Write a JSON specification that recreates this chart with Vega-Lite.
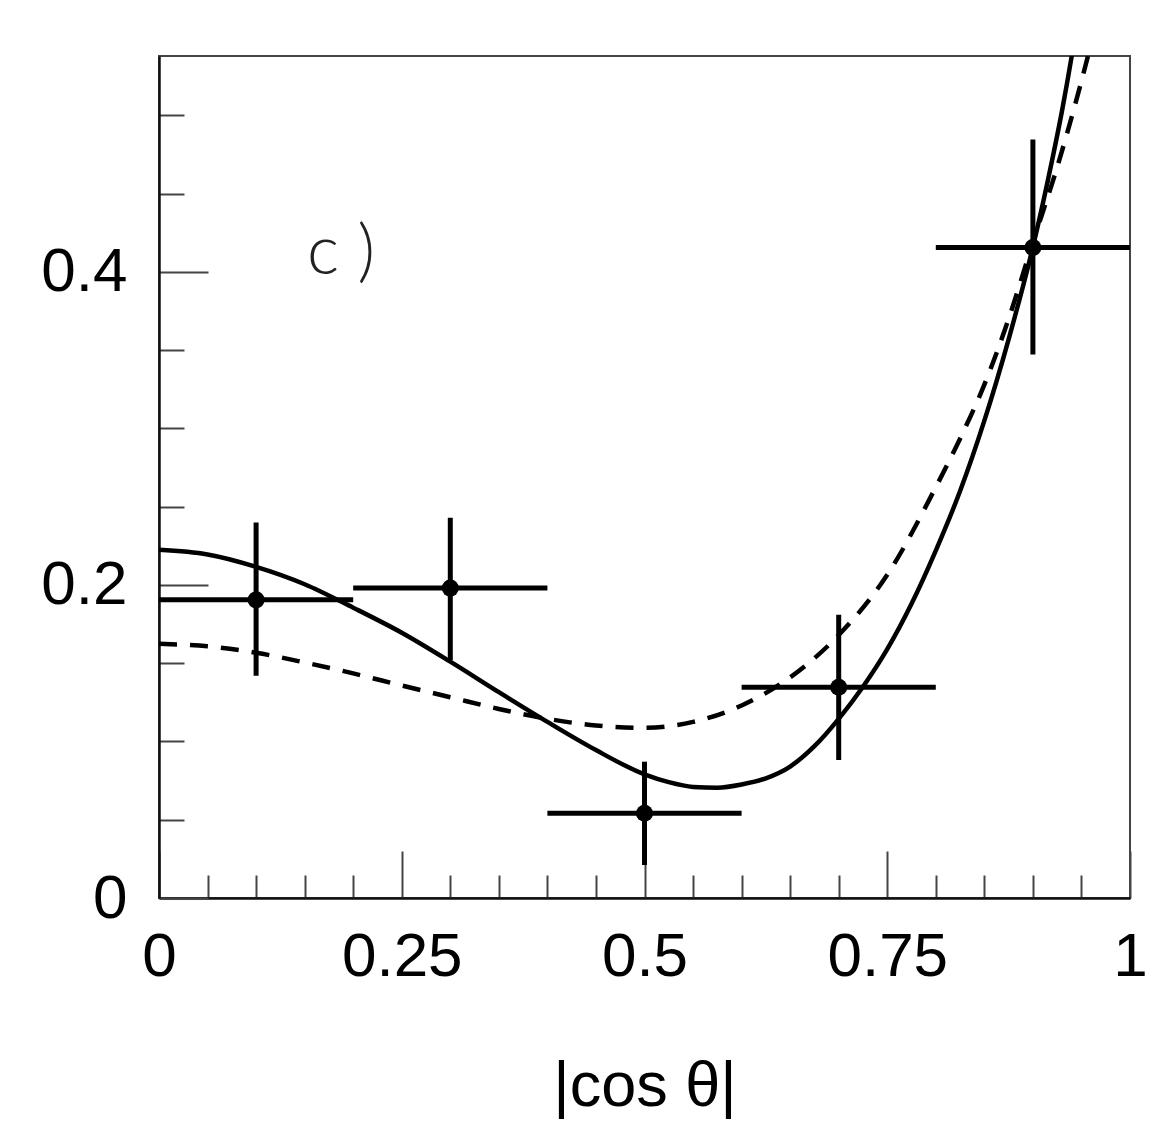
{
  "$schema": "https://vega.github.io/schema/vega-lite/v6.json",
  "autosize": "none",
  "width": 971,
  "height": 842,
  "padding": {"left": 159, "top": 56, "right": 28, "bottom": 234},
  "background": "white",
  "config": {
    "view": {"stroke": "#444", "strokeWidth": 2},
    "font": "Liberation Sans"
  },
  "datasets": {
    "points": [
      {"cos": 0.1, "val": 0.1905, "lo": 0.0, "hi": 0.2, "err_lo": 0.142, "err_hi": 0.240},
      {"cos": 0.3, "val": 0.198, "lo": 0.2, "hi": 0.4, "err_lo": 0.152, "err_hi": 0.243},
      {"cos": 0.5, "val": 0.0541, "lo": 0.4, "hi": 0.6, "err_lo": 0.0211, "err_hi": 0.0871},
      {"cos": 0.7, "val": 0.1347, "lo": 0.6, "hi": 0.8, "err_lo": 0.0882, "err_hi": 0.181},
      {"cos": 0.9, "val": 0.4156, "lo": 0.8, "hi": 1.0, "err_lo": 0.3472, "err_hi": 0.4847}
    ],
    "solid": [
      {"cos": 0, "val": 0.2225}, {"cos": 0.05, "val": 0.2195}, {"cos": 0.1, "val": 0.2116},
      {"cos": 0.15, "val": 0.2005}, {"cos": 0.2, "val": 0.1855}, {"cos": 0.25, "val": 0.1695},
      {"cos": 0.3, "val": 0.151}, {"cos": 0.35, "val": 0.1315}, {"cos": 0.4, "val": 0.1125},
      {"cos": 0.45, "val": 0.0945}, {"cos": 0.5, "val": 0.079}, {"cos": 0.525, "val": 0.074},
      {"cos": 0.55, "val": 0.071}, {"cos": 0.575, "val": 0.0705}, {"cos": 0.6, "val": 0.0725},
      {"cos": 0.625, "val": 0.0765}, {"cos": 0.65, "val": 0.084}, {"cos": 0.675, "val": 0.097},
      {"cos": 0.7, "val": 0.1145}, {"cos": 0.725, "val": 0.135}, {"cos": 0.75, "val": 0.159},
      {"cos": 0.775, "val": 0.188}, {"cos": 0.8, "val": 0.222}, {"cos": 0.825, "val": 0.26},
      {"cos": 0.85, "val": 0.305}, {"cos": 0.875, "val": 0.357}, {"cos": 0.9, "val": 0.416},
      {"cos": 0.92, "val": 0.472}, {"cos": 0.93, "val": 0.503}, {"cos": 0.94, "val": 0.538},
      {"cos": 0.945, "val": 0.557}
    ],
    "dashed": [
      {"cos": 0, "val": 0.1624}, {"cos": 0.05, "val": 0.1608}, {"cos": 0.1, "val": 0.1567},
      {"cos": 0.15, "val": 0.1505}, {"cos": 0.2, "val": 0.1435}, {"cos": 0.25, "val": 0.1358},
      {"cos": 0.3, "val": 0.1283}, {"cos": 0.35, "val": 0.1208}, {"cos": 0.4, "val": 0.1145},
      {"cos": 0.45, "val": 0.1102}, {"cos": 0.5, "val": 0.1087}, {"cos": 0.55, "val": 0.1125},
      {"cos": 0.6, "val": 0.123}, {"cos": 0.65, "val": 0.141}, {"cos": 0.7, "val": 0.168},
      {"cos": 0.75, "val": 0.2065}, {"cos": 0.8, "val": 0.2625}, {"cos": 0.825, "val": 0.2935},
      {"cos": 0.85, "val": 0.328}, {"cos": 0.875, "val": 0.37}, {"cos": 0.9, "val": 0.419},
      {"cos": 0.925, "val": 0.467}, {"cos": 0.95, "val": 0.522}, {"cos": 0.96, "val": 0.546}
    ],
    "label": [
      {"cos": 0.1525, "val": 0.399, "text": "c )"}
    ]
  },
  "encoding": {
    "x": {
      "field": "cos", "type": "quantitative",
      "scale": {"domain": [0, 1], "nice": false, "zero": false},
      "axis": {
        "title": "|cos θ|",
        "titleFont": "Liberation Sans", "titleFontSize": 63, "titleFontWeight": "normal",
        "titleColor": "#000", "titlePadding": 44,
        "values": [0, 0.05, 0.1, 0.15, 0.2, 0.25, 0.3, 0.35, 0.4, 0.45, 0.5, 0.55, 0.6, 0.65, 0.7, 0.75, 0.8, 0.85, 0.9, 0.95, 1],
        "format": ".2~f",
        "labelExpr": "round(datum.value*20) % 5 === 0 ? datum.label : ''",
        "labelFont": "Liberation Sans", "labelFontSize": 62, "labelColor": "#000",
        "labelPadding": 75, "labelFlush": false, "labelOverlap": false,
        "tickSize": {"condition": {"test": "round(datum.value*20) % 5 === 0", "value": -47}, "value": -23},
        "tickColor": "#444", "tickWidth": 2,
        "domainColor": "#111", "domainWidth": 2.5,
        "grid": false
      }
    },
    "y": {
      "field": "val", "type": "quantitative",
      "scale": {"domain": [0, 0.538], "nice": false, "zero": false},
      "axis": {
        "title": null,
        "values": [0, 0.05, 0.1, 0.15, 0.2, 0.25, 0.3, 0.35, 0.4, 0.45, 0.5],
        "format": ".1~f",
        "labelExpr": "round(datum.value*20) % 4 === 0 ? datum.label : ''",
        "labelFont": "Liberation Sans", "labelFontSize": 62, "labelColor": "#000",
        "labelPadding": 81, "labelFlush": false, "labelOverlap": false,
        "tickSize": {"condition": {"test": "round(datum.value*20) % 4 === 0", "value": -49}, "value": -25},
        "tickColor": "#444", "tickWidth": 2,
        "domainColor": "#111", "domainWidth": 2.5,
        "grid": false
      }
    }
  },
  "layer": [
    {
      "data": {"name": "dashed"},
      "mark": {"type": "line", "color": "#000", "strokeWidth": 4.5, "strokeDash": [18, 13], "clip": true, "interpolate": "monotone"}
    },
    {
      "data": {"name": "solid"},
      "mark": {"type": "line", "color": "#000", "strokeWidth": 4.5, "clip": true, "interpolate": "monotone"}
    },
    {
      "data": {"name": "points"},
      "mark": {"type": "rule", "color": "#000", "strokeWidth": 5},
      "encoding": {"x": {"field": "lo", "type": "quantitative"}, "x2": {"field": "hi"}}
    },
    {
      "data": {"name": "points"},
      "mark": {"type": "rule", "color": "#000", "strokeWidth": 5},
      "encoding": {"y": {"field": "err_lo", "type": "quantitative"}, "y2": {"field": "err_hi"}}
    },
    {
      "data": {"name": "points"},
      "mark": {"type": "circle", "color": "#000", "opacity": 1, "size": 290}
    },
    {
      "data": {"name": "label"},
      "mark": {"type": "text", "font": "Lato", "fontWeight": 300, "fontSize": 68, "align": "left", "baseline": "alphabetic", "color": "#222"},
      "encoding": {"text": {"field": "text", "type": "nominal"}}
    }
  ]
}
